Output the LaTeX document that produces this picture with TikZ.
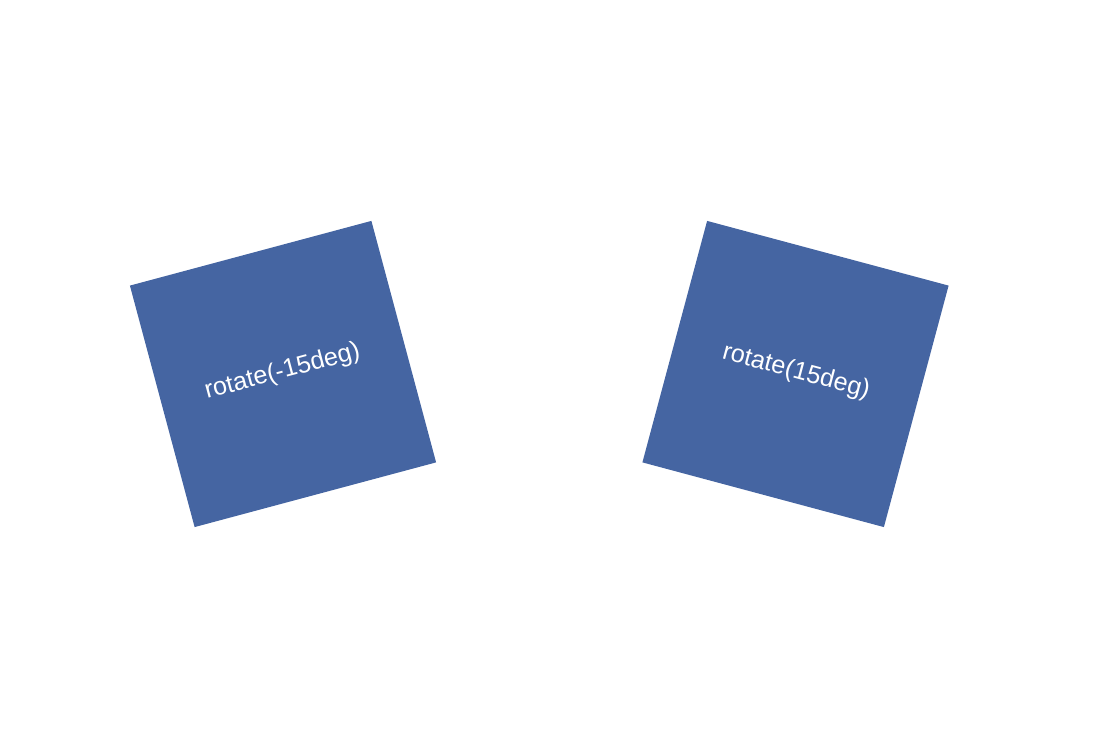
\documentclass[tikz,border=0pt]{standalone}
\usepackage{fontspec}
\setmainfont{Liberation Sans}
\usepackage{xcolor}
\usepackage{tikz}
\definecolor{boxblue}{RGB}{69,101,162}

\begin{document}
\begin{tikzpicture}[x=1pt,y=1pt]
    \tikzstyle{every node}=[rectangle, fill=boxblue, text=white, inner sep=0pt, minimum size=250pt, text height=1.1em, text depth=0.212em, font=\fontsize{25.2}{29}\selectfont]
    \useasboundingbox (0,0) rectangle (1116,733);
    
    \node[rotate=15] (neg) at (283,359) {rotate(-15deg)};
    \node[rotate=-15] (pos) at (795.5,359) {rotate(15deg)};
\end{tikzpicture}
\end{document}
